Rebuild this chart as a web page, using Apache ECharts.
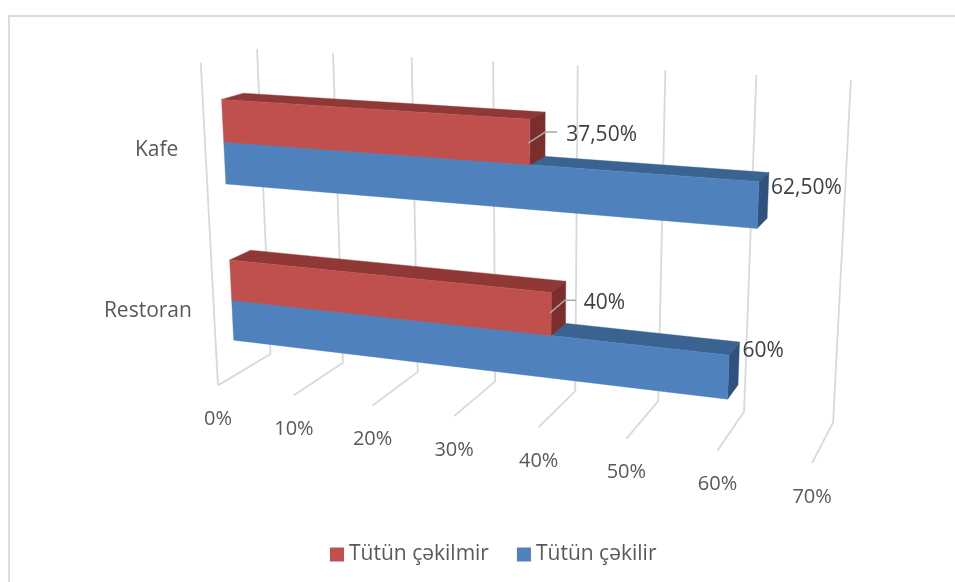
<!DOCTYPE html>
<html><head><meta charset="utf-8">
<style>html,body{margin:0;padding:0;background:#fff}#c{width:955px;height:582px}</style>
<script src="https://cdn.jsdelivr.net/npm/echarts@6/dist/echarts.min.js"></script>
</head><body><div id="c"></div>
<script>
const categories = ['Restoran', 'Kafe'];
const notSmoking = [40, 37.5];
const smoking = [60, 62.5];
const notSmokingLabels = ['40%', '37,50%'];
const smokingLabels = ['60%', '62,50%'];
const tickValues = [0, 10, 20, 30, 40, 50, 60, 70];
const tickLabels = ['0%', '10%', '20%', '30%', '40%', '50%', '60%', '70%'];
const seriesNames = ['Tütün çəkilmir', 'Tütün çəkilir'];

// Camera calibration: screen position of the chart box's gridline ends.
const floorFront = [[218,385],[293,395],[373,406],[454,416],[538,427],[627,438],[718,451],[812,463]];
const floorBack = [[271,354],[343,363],[418,372],[495,382],[575,391],[658,401],[744,412],[833,422]];
const wallTop = [[257,48],[333,53],[411,57],[493,62],[578,65],[666,70],[757,75],[850,80]];
const leftWallTop = [201,63];

function fitCamera() {
  const pts = [];
  tickValues.forEach((v, i) => {
    pts.push([v / 70, 0, 0, ...floorFront[i]]);
    pts.push([v / 70, 1, 0, ...floorBack[i]]);
    pts.push([v / 70, 1, 1, ...wallTop[i]]);
  });
  pts.push([0, 0, 1, ...leftWallTop]);
  const n = 11, A = Array.from({length: n}, () => new Array(n + 1).fill(0));
  const add = (r, t) => { for (let i = 0; i < n; i++) { for (let j = 0; j < n; j++) A[i][j] += r[i] * r[j]; A[i][n] += r[i] * t; } };
  pts.forEach(([X, Y, Z, x, y]) => {
    add([X, Y, Z, 1, 0, 0, 0, 0, -x * X, -x * Y, -x * Z], x);
    add([0, 0, 0, 0, X, Y, Z, 1, -y * X, -y * Y, -y * Z], y);
  });
  for (let c = 0; c < n; c++) {
    let p = c;
    for (let r = c + 1; r < n; r++) if (Math.abs(A[r][c]) > Math.abs(A[p][c])) p = r;
    [A[c], A[p]] = [A[p], A[c]];
    for (let r = 0; r < n; r++) {
      if (r === c) continue;
      const f = A[r][c] / A[c][c];
      for (let k = c; k <= n; k++) A[r][k] -= f * A[c][k];
    }
  }
  return A.map((row, i) => row[n] / row[i]);
}
const m = fitCamera();
function project(X, Y, Z) {
  const w = m[8] * X + m[9] * Y + m[10] * Z + 1;
  return [(m[0] * X + m[1] * Y + m[2] * Z + m[3]) / w, (m[4] * X + m[5] * Y + m[6] * Z + m[7]) / w];
}

const GRID_W = 700, GRID_H = 300;
const DEPTH_FRONT = 0.32, DEPTH_BACK = 0.71, BAR_FRACTION = 0.26, ROW_SHIFT = 1.5;
const FONT = '"Open Sans", "Noto Sans", sans-serif';
const worldX = px => px / GRID_W;
const worldZ = py => 1 - (py + ROW_SHIFT) / GRID_H;

const palette = {
  red: {front: '#C0504D', top: '#8F3836', side: '#7B2F2D'},
  blue: {front: '#4F81BD', top: '#3B6391', side: '#30517E'}
};
// Pixel offsets from a bar's back-top corner to its data label, per category.
const redLabelOffsets = [[18, 21.5], [21, 23]];
const blueLabelOffsets = [[3, 9.5], [2, 15]];
const redLeaders = [[[-16, 32], [-1, 19], [10, 19]], [[-17, 31], [0, 20], [12, 20]]];
const categoryLabelOffsets = [-22, -27];

function barRenderer(colors, offsetBand, labels, labelOffsets, leaders) {
  return function (params, api) {
    const i = api.value(1);
    const [px, py] = api.coord([api.value(0), i]);
    const band = api.size([0, 1])[1];
    const zTop = worldZ(py + offsetBand * BAR_FRACTION * band - BAR_FRACTION * band);
    const zBot = worldZ(py + offsetBand * BAR_FRACTION * band);
    const x0 = worldX(api.coord([0, i])[0]), x1 = worldX(px);
    const P = (x, d, z) => project(x, d, z);
    const poly = (points, fill) => ({type: 'polygon', shape: {points}, style: {fill, stroke: fill, lineWidth: 0.4}});
    const corner = P(x1, DEPTH_BACK, zTop);
    const children = [
      poly([P(x0, DEPTH_FRONT, zTop), P(x0, DEPTH_BACK, zTop), P(x1, DEPTH_BACK, zTop), P(x1, DEPTH_FRONT, zTop)], colors.top),
      poly([P(x1, DEPTH_FRONT, zTop), P(x1, DEPTH_BACK, zTop), P(x1, DEPTH_BACK, zBot), P(x1, DEPTH_FRONT, zBot)], colors.side),
      poly([P(x0, DEPTH_FRONT, zTop), P(x1, DEPTH_FRONT, zTop), P(x1, DEPTH_FRONT, zBot), P(x0, DEPTH_FRONT, zBot)], colors.front)
    ];
    if (leaders) {
      children.push({type: 'polyline', shape: {points: leaders[i].map(o => [corner[0] + o[0], corner[1] + o[1]])},
        style: {fill: 'none', stroke: '#A6A6A6', lineWidth: 1.5}});
    }
    children.push({type: 'text', style: {text: labels[i], x: corner[0] + labelOffsets[i][0], y: corner[1] + labelOffsets[i][1],
      align: 'left', verticalAlign: 'middle', fontSize: 21, fontFamily: FONT, fill: '#404040'}});
    return {type: 'group', children};
  };
}

const option = {
  animation: false,
  backgroundColor: '#fff',
  graphic: [{type: 'polyline', shape: {points: [[9, 582], [9, 16], [955, 16]]}, style: {fill: 'none', stroke: '#D9D9D9', lineWidth: 1.8}, silent: true}],
  grid: {left: 0, top: 0, width: GRID_W, height: GRID_H},
  xAxis: {type: 'value', min: 0, max: 70, interval: 10, show: false},
  yAxis: {type: 'category', data: categories, show: false},
  legend: {
    data: seriesNames, left: 325, top: 539, itemWidth: 14, itemHeight: 14, itemGap: 28, icon: 'rect',
    textStyle: {fontSize: 21, fontFamily: FONT, color: '#595959'}, selectedMode: false
  },
  series: [
    {
      type: 'custom', name: 'grid', silent: true, z: 1, clip: false,
      data: tickValues.map((v, i) => [v, i]),
      encode: {x: 0},
      renderItem(params, api) {
        const x = worldX(api.coord([api.value(0), 0])[0]);
        const i = api.value(1);
        const pts = [project(x, 0, 0), project(x, 1, 0), project(x, 1, 1)];
        const f = project(x, 0, 0);
        const children = [
          {type: 'polyline', shape: {points: pts}, style: {fill: 'none', stroke: '#D9D9D9', lineWidth: 1.8}},
          {type: 'text', style: {text: tickLabels[i], x: f[0], y: f[1] + 34, align: 'center', verticalAlign: 'middle', fontSize: 20, fontFamily: FONT, fill: '#595959'}}
        ];
        if (i === 0) children.push({type: 'polyline', shape: {points: [f, project(x, 0, 1)]}, style: {fill: 'none', stroke: '#D9D9D9', lineWidth: 1.8}});
        return {type: 'group', children};
      }
    },
    {
      type: 'custom', name: 'categories', silent: true, z: 1, clip: false,
      data: categories.map((c, i) => [0, i]),
      encode: {x: 0, y: 1},
      renderItem(params, api) {
        const i = api.value(1);
        const [px, py] = api.coord([0, i]);
        const p = project(worldX(px), 0, worldZ(py));
        return {type: 'text', style: {text: categories[i], x: p[0] + categoryLabelOffsets[i], y: p[1] + 2, align: 'right', verticalAlign: 'middle', fontSize: 21, fontFamily: FONT, fill: '#595959'}};
      }
    },
    {
      type: 'custom', name: seriesNames[1], z: 2, clip: false,
      itemStyle: {color: palette.blue.front},
      data: smoking.map((v, i) => [v, i]),
      encode: {x: 0, y: 1},
      renderItem: barRenderer(palette.blue, 1, smokingLabels, blueLabelOffsets, null)
    },
    {
      type: 'custom', name: seriesNames[0], z: 3, clip: false,
      itemStyle: {color: palette.red.front},
      data: notSmoking.map((v, i) => [v, i]),
      encode: {x: 0, y: 1},
      renderItem: barRenderer(palette.red, 0, notSmokingLabels, redLabelOffsets, redLeaders)
    }
  ]
};
echarts.init(document.getElementById('c'), null, {renderer: 'canvas'}).setOption(option);
</script></body></html>
